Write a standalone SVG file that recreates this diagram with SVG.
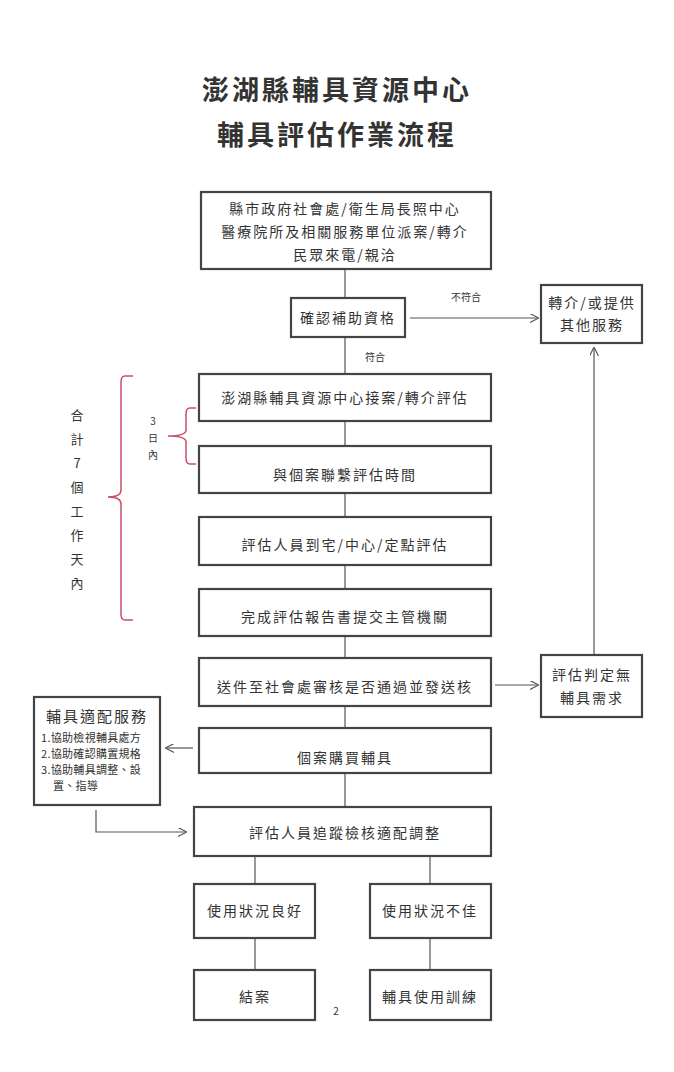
<svg xmlns="http://www.w3.org/2000/svg" width="674" height="1072" viewBox="0 0 674 1072">
<defs>
<marker id="ah" viewBox="0 0 10 10" refX="9" refY="5" markerWidth="9" markerHeight="9" orient="auto" markerUnits="userSpaceOnUse"><path d="M0,0 L10,5 L0,10" fill="none" stroke="#555" stroke-width="1.3"/></marker>
<style>
.b{fill:#fff;stroke:#444;stroke-width:2.2}
.t{font-family:"Noto Sans CJK TC","Noto Sans CJK SC",sans-serif;fill:#333;text-anchor:middle;font-size:14px;letter-spacing:2px}
.s{font-size:10px;letter-spacing:0}
.l{font-size:11px;letter-spacing:0.3px;text-anchor:start}
.c{fill:none;stroke:#555;stroke-width:1.2}
.r{fill:none;stroke:#c8506a;stroke-width:1.5}
</style>
</defs>
<rect width="674" height="1072" fill="#fff"/>
<text class="t" x="337" y="100" style="font-size:27px;font-weight:bold;letter-spacing:3px">澎湖縣輔具資源中心</text>
<text class="t" x="337" y="145" style="font-size:27px;font-weight:bold;letter-spacing:3px">輔具評估作業流程</text>
<g id="connectors">
<path class="c" d="M345,269 V298 M345,337 V374 M345,421 V446 M345,493 V517 M345,565 V589 M345,636 V658 M345,706 V728 M345,773 V807 M255,856 V884 M430,856 V884 M255,938 V970 M430,938 V970"/>
<path class="c" d="M410,318 H538" marker-end="url(#ah)"/>
<path class="c" d="M495,685 H538" marker-end="url(#ah)"/>
<path class="c" d="M594,655 V348" marker-end="url(#ah)"/>
<path class="c" d="M193,748 H166" marker-end="url(#ah)"/>
<path class="c" d="M96,810 V832 H186" marker-end="url(#ah)"/>
<text class="t s" x="466" y="301">不符合</text>
<text class="t s" x="375" y="361">符合</text>
</g>
<g id="n1"><rect class="b" x="201" y="192" width="290" height="77"/>
<text class="t" x="345" y="214">縣市政府社會處/衛生局長照中心</text>
<text class="t" x="345" y="237">醫療院所及相關服務單位派案/轉介</text>
<text class="t" x="345" y="260">民眾來電/親洽</text></g>
<g id="n2"><rect class="b" x="291" y="298" width="114" height="39"/><text class="t" x="348" y="323">確認補助資格</text></g>
<g id="n3"><rect class="b" x="541" y="285" width="101" height="58"/><text class="t" x="592" y="308">轉介/或提供</text><text class="t" x="592" y="330">其他服務</text></g>
<g id="n4"><rect class="b" x="199" y="374" width="292" height="47"/><text class="t" x="345" y="403">澎湖縣輔具資源中心接案/轉介評估</text></g>
<g id="n5"><rect class="b" x="199" y="446" width="292" height="47"/><text class="t" x="345" y="480">與個案聯繫評估時間</text></g>
<g id="n6"><rect class="b" x="199" y="517" width="292" height="48"/><text class="t" x="345" y="550">評估人員到宅/中心/定點評估</text></g>
<g id="n7"><rect class="b" x="199" y="589" width="292" height="47"/><text class="t" x="345" y="622">完成評估報告書提交主管機關</text></g>
<g id="n8"><rect class="b" x="199" y="658" width="292" height="48"/><text class="t" x="345" y="692">送件至社會處審核是否通過並發送核</text></g>
<g id="n9"><rect class="b" x="541" y="655" width="101" height="62"/><text class="t" x="592" y="680">評估判定無</text><text class="t" x="592" y="703">輔具需求</text></g>
<g id="n10"><rect class="b" x="34" y="697" width="126" height="108"/>
<text class="t" x="97" y="722" style="font-size:15px">輔具適配服務</text>
<text class="t l" x="41" y="742">1.協助檢視輔具處方</text>
<text class="t l" x="41" y="758">2.協助確認購置規格</text>
<text class="t l" x="41" y="774">3.協助輔具調整、設</text>
<text class="t l" x="53" y="790">置、指導</text></g>
<g id="n11"><rect class="b" x="199" y="728" width="292" height="45"/><text class="t" x="345" y="763">個案購買輔具</text></g>
<g id="n12"><rect class="b" x="194" y="807" width="297" height="49"/><text class="t" x="345" y="838">評估人員追蹤檢核適配調整</text></g>
<g id="n13"><rect class="b" x="194" y="884" width="121" height="54"/><text class="t" x="255" y="916">使用狀況良好</text></g>
<g id="n14"><rect class="b" x="370" y="884" width="121" height="54"/><text class="t" x="430" y="916">使用狀況不佳</text></g>
<g id="n15"><rect class="b" x="194" y="970" width="121" height="50"/><text class="t" x="255" y="1002">結案</text></g>
<g id="n16"><rect class="b" x="370" y="970" width="121" height="50"/><text class="t" x="430" y="1002">輔具使用訓練</text></g>
<text class="t s" x="336" y="1015">2</text>
<g id="braces">
<path class="r" d="M133,376 H125 Q121,376 121,382 V490 Q121,497 108,497 Q121,497 121,504 V614 Q121,620 125,620 H133"/>
<path class="r" d="M196,408 H190 Q186,408 186,414 V430 Q186,436 168,436 Q186,436 186,442 V458 Q186,464 190,464 H196"/>
<g class="t" style="font-size:13px">
<text x="78" y="420">合</text><text x="78" y="444">計</text><text x="78" y="468">7</text><text x="78" y="492">個</text><text x="78" y="516">工</text><text x="78" y="540">作</text><text x="78" y="564">天</text><text x="78" y="588">內</text>
</g>
<g class="t s"><text x="153" y="425">3</text><text x="153" y="442">日</text><text x="153" y="459">內</text></g>
</g>
</svg>
